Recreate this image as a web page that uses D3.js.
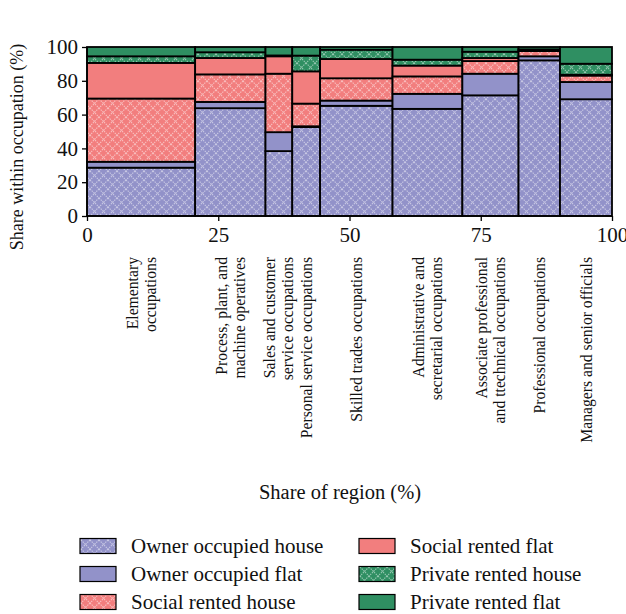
<!DOCTYPE html>
<html><head><meta charset="utf-8">
<script src="https://cdn.jsdelivr.net/npm/d3@7"></script>
<style>body{margin:0;background:#fff}svg{display:block}text{font-family:"Liberation Serif","DejaVu Serif",serif;fill:#111}</style>
</head><body><svg id="c" width="626" height="614"></svg>
<script>
const categories = ["Elementary occupations","Process, plant, and machine operatives","Sales and customer service occupations","Personal service occupations","Skilled trades occupations","Administrative and secretarial occupations","Associate professional and ttechnical occupations","Professional occupations","Managers and senior officials"];
const labelLines = [["Elementary","occupations"],["Process, plant, and","machine operatives"],["Sales and customer","service occupations"],["Personal service occupations"],["Skilled trades occupations"],["Administrative and","secretarial occupations"],["Associate professional","and ttechnical occupations"],["Professional occupations"],["Managers and senior officials"]];
const regionShare = [20.6, 13.4, 5.1, 5.3, 13.8, 13.3, 10.7, 7.9, 9.9];
const seriesNames = ["Owner occupied house","Owner occupied flat","Social rented house","Social rented flat","Private rented house","Private rented flat"];
const ownerHouse   = [28.6, 63.8, 38.4, 52.6, 65.2, 63.4, 71.4, 92.1, 69.1];
const ownerFlat    = [3.5, 3.7, 11.2, 0.5, 3.1, 8.9, 12.8, 2.4, 10.2];
const socialHouse  = [37.4, 16.3, 34.6, 13.4, 13.2, 10.3, 7.5, 3.1, 3.8];
const socialFlat   = [21.1, 9.7, 10.3, 19.1, 11.4, 6.4, 1.8, 0.5, 0.5];
const privateHouse = [3.9, 3.4, 0.5, 9.3, 5.5, 3.5, 3.7, 0.5, 6.5];
const privateFlat  = [5.5, 3.1, 5.0, 5.1, 1.6, 7.5, 2.8, 1.4, 9.9];
const yTicks = [0,20,40,60,80,100];
const xTicks = [0,25,50,75,100];

const series = [ownerHouse, ownerFlat, socialHouse, socialFlat, privateHouse, privateFlat];
const colors = ["#9292c9","#9292c9","#f27e7e","#f27e7e","#2f8f62","#2f8f62"];
const hatched = [true,false,true,false,true,false];

const svg = d3.select("#c");
const defs = svg.append("defs");
seriesNames.forEach((n,i)=>{
  if(!hatched[i]) return;
  const p = defs.append("pattern").attr("id","pat"+i).attr("patternUnits","userSpaceOnUse").attr("width",9).attr("height",9);
  p.append("rect").attr("width",9).attr("height",9).attr("fill",colors[i]);
  p.append("path").attr("d","M0,0L9,9M9,0L0,9M-1,8L1,10M8,-1L10,1").attr("stroke","#fff").attr("stroke-opacity",0.5).attr("stroke-width",1.1).attr("stroke-dasharray","1.4,1");
});
const fillOf = i => hatched[i] ? `url(#pat${i})` : colors[i];

const x = d3.scaleLinear().domain([0,100]).range([87,612]);
const y = d3.scaleLinear().domain([0,100]).range([216,47]);

const starts = []; let acc = 0;
regionShare.forEach(w=>{starts.push(acc); acc+=w;});
const scaleW = 100/acc;

const g = svg.append("g");
categories.forEach((c,ci)=>{
  const x0 = starts[ci]*scaleW, x1 = (starts[ci]+regionShare[ci])*scaleW;
  let tot = series.reduce((s,a)=>s+a[ci],0);
  let cum = 0;
  series.forEach((arr,si)=>{
    const v = arr[ci]*100/tot;
    g.append("rect").attr("x",x(x0)).attr("width",x(x1)-x(x0))
      .attr("y",y(cum+v)).attr("height",y(cum)-y(cum+v))
      .attr("fill",fillOf(si)).attr("stroke","#000").attr("stroke-width",1.8);
    cum += v;
  });
  const cx = x((x0+x1)/2);
  const n = labelLines[ci].length;
  const lg = svg.append("g").attr("transform",`translate(${cx},257) rotate(-90)`);
  labelLines[ci].forEach((t,li)=>{
    lg.append("text").attr("x",0).attr("y",(li-(n-1)/2)*18).attr("dy","0.35em")
      .attr("text-anchor","end").style("font-size","15.7px").text(t);
  });
});

const ya = svg.append("g").attr("transform","translate(87,0)")
  .call(d3.axisLeft(y).tickValues(yTicks).tickSize(5).tickPadding(4));
const xa = svg.append("g").attr("transform","translate(0,216)")
  .call(d3.axisBottom(x).tickValues(xTicks).tickSize(5).tickPadding(6));
[ya,xa].forEach(a=>{
  a.selectAll("path,line").attr("stroke","#000").attr("stroke-width",1.3);
  a.selectAll("text").style("font-size","21px").style("font-family","'Liberation Serif',serif").attr("fill","#111");
});
ya.select(".domain").attr("d","M0,216V47");
xa.select(".domain").attr("d","M87,0H612");

svg.append("text").attr("transform","translate(23,147) rotate(-90)").attr("text-anchor","middle")
  .style("font-size","18px").text("Share within occupation (%)");
svg.append("text").attr("x",340).attr("y",499).attr("text-anchor","middle")
  .style("font-size","20.5px").text("Share of region (%)");

const lg = svg.append("g");
seriesNames.forEach((n,i)=>{
  const col = Math.floor(i/3), row = i%3;
  const sx = col===0?80:359, cy = 546 + row*28;
  lg.append("rect").attr("x",sx).attr("y",cy-7.5).attr("width",36).attr("height",15)
    .attr("fill",fillOf(i)).attr("stroke","#000").attr("stroke-width",1.2);
  lg.append("text").attr("x",sx+51).attr("y",cy).attr("dy","0.35em").style("font-size","21px").text(n);
});
</script></body></html>
